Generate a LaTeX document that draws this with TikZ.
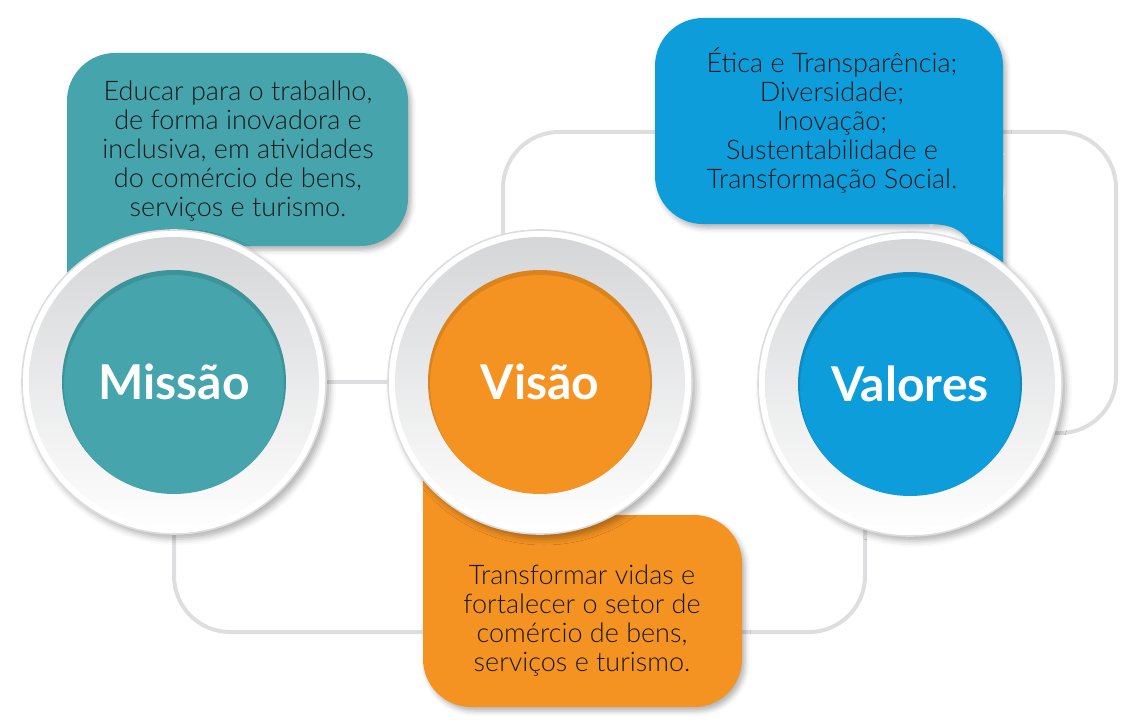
\documentclass[tikz,border=0pt]{standalone}
\usepackage{fontspec}
\setmainfont{Lato}
\newfontfamily\lightfont{Lato Light}
\usetikzlibrary{calc,backgrounds,shadows.blur}

\definecolor{missaoteal}{RGB}{69,164,172}
\definecolor{visaoorange}{RGB}{244,147,34}
\definecolor{valoresblue}{RGB}{13,157,219}
\definecolor{ringgrey}{RGB}{212,213,215}
\definecolor{linkgrey}{RGB}{222,222,224}
\definecolor{textgrey}{RGB}{24,24,26}

\begin{document}
\begin{tikzpicture}[x=0.5pt, y=-0.5pt,
	ring/.style={circle, minimum size=152pt, inner sep=0pt, draw=ringgrey!80, line width=0.8pt, fill=white,
		path picture={\shade[top color=ringgrey, bottom color=white] (path picture bounding box.center) circle (72.5pt);},
		blur shadow={shadow xshift=2pt, shadow yshift=-2.5pt, shadow blur radius=3pt, shadow opacity=30}},
	disc/.style={circle, minimum size=112pt, inner sep=0pt, fill=#1, text=white,
		path picture={\draw[black, opacity=0.1, line width=4pt] ([yshift=-1.5pt]path picture bounding box.center) circle (57pt);},
		font=\fontsize{24}{24}\selectfont\bfseries},
	card/.style={fill=#1, rounded corners=24pt,
		blur shadow={shadow xshift=1.5pt, shadow yshift=-2pt, shadow blur radius=2.5pt, shadow opacity=30}},
	cardtext/.style={align=center, text=textgrey, font=\lightfont\fontsize{13.5}{14.5}\selectfont},
	link/.style={draw=linkgrey, line width=2pt, rounded corners=28pt}]

	\useasboundingbox (0,0) rectangle (1140,722);

	% circles
	\node[ring] (missao) at (174, 382) {};
	\node[disc=missaoteal] (missaolbl) at (missao) {Missão};

	\node[ring] (visao) at (540, 382) {};
	\node[disc=visaoorange] (visaolbl) at (visao) {Visão};

	\node[ring] (valores) at (910, 384) {};
	\node[disc=valoresblue] (valoreslbl) at (valores) {Valores};

	\coordinate (topturn) at (1116, 132);
	\coordinate (bottomturn) at (865, 632);

	\begin{scope}[on background layer]
		% connectors
		\draw[link] (missao) -- (visao);
		\draw[link] ($(visao)+(-37,0)$) |- (topturn) |- ($(valores)+(0,49)$);
		\draw[link] (missao) |- (bottomturn) -- ($(valores)+(-45,0)$);

		% cards
		\path[card=missaoteal] (67, 53) rectangle (408, 246) [sharp corners] (67, 150) rectangle (140, 382);
		\node[cardtext] (missaotxt) at (238, 151) {Educar para o trabalho,\\de forma inovadora e\\inclusiva, em atividades\\do comércio de bens,\\serviços e turismo.};

		\path[card=valoresblue] (655, 18) rectangle (1003, 224) [sharp corners]
			(928, 150) -- (928, 224) .. controls (955, 224) and (966, 232) .. (975, 252) -- (975, 384) -- (1003, 384) -- (1003, 150) -- cycle;
		\node[cardtext] (valorestxt) at (832, 120) {Ética e Transparência;\\Diversidade;\\Inovação;\\Sustentabilidade e\\Transformação Social.};

		\path[card=visaoorange] (423, 515) rectangle (742, 707) [sharp corners] (423, 382) rectangle (490, 620);
		\node[cardtext] (visaotxt) at (582, 621) {Transformar vidas e\\fortalecer o setor de\\comércio de bens,\\serviços e turismo.};
	\end{scope}

\end{tikzpicture}
\end{document}
